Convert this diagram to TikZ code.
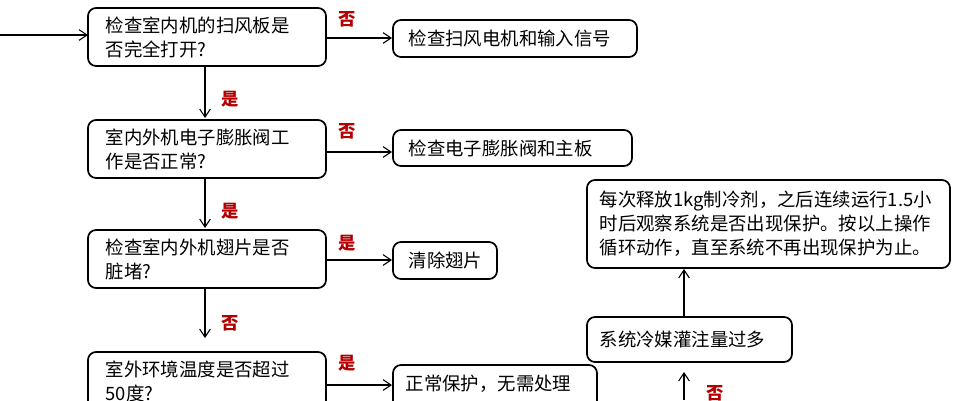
\documentclass[tikz,border=0pt]{standalone}
\usepackage{fontspec}
\setmainfont{Noto Sans CJK SC}
\usetikzlibrary{arrows.meta}
\begin{document}
\begin{tikzpicture}[x=0.75pt,y=-0.75pt,
  box/.style={draw,line width=1.3pt,rounded corners=6pt,inner sep=0pt},
  lbl/.style={text=red!70!black,font=\bfseries\fontsize{13}{15}\selectfont},
  arr/.style={-{Straight Barb[length=6pt,width=8pt]},line width=0.8pt},
  txt/.style={font=\fontsize{13.8}{18}\selectfont,align=left,anchor=west}]
\useasboundingbox (0,0) rectangle (969,400);
\clip (0,0) rectangle (969,400);
\draw[box] (88,8) rectangle (326,66);
\node[txt] (t1) at (101,37) {检查室内机的扫风板是\\否完全打开?};
\draw[box] (393,20) rectangle (637,57);
\node[txt] (t2) at (404,38.5) {检查扫风电机和输入信号};
\draw[box] (88,120) rectangle (326,178);
\node[txt] (t3) at (101,149) {室内外机电子膨胀阀工\\作是否正常?};
\draw[box] (393,130) rectangle (632,166);
\node[txt] (t4) at (404,148) {检查电子膨胀阀和主板};
\draw[box] (88,230) rectangle (326,288);
\node[txt] (t5) at (101,259) {检查室内外机翅片是否\\脏堵?};
\draw[box] (393,242) rectangle (497,279);
\node[txt] (t6) at (404,260.5) {清除翅片};
\draw[box] (88,352) rectangle (326,410);
\node[txt] (t7) at (101,381) {室外环境温度是否超过\\50度?};
\draw[box] (393,365) rectangle (597,410);
\node[txt] (t8) at (401,384) {正常保护，无需处理};
\draw[box] (587,180) rectangle (950,268);
\node[txt] (t9) at (595,224) {每次释放1kg制冷剂，之后连续运行1.5小\\时后观察系统是否出现保护。按以上操作\\循环动作，直至系统不再出现保护为止。};
\draw[box] (587,317) rectangle (792,362);
\node[txt] (t10) at (595,339.5) {系统冷媒灌注量过多};
\draw[arr] (0,35) -- (88,35);
\draw[arr] (326,38) -- (392,38);
\draw[arr] (326,152) -- (392,152);
\draw[arr] (326,260) -- (392,260);
\draw[arr] (326,385) -- (392,385);
\draw[arr] (205,66) -- (205,118);
\draw[arr] (205,178) -- (205,228);
\draw[arr] (205,288) -- (205,338);
\draw[arr] (684,400) -- (684,372);
\draw[arr] (684,317) -- (684,269);
\node[lbl] at (347,19) {否};
\node[lbl] at (347,131) {否};
\node[lbl] at (347,243) {是};
\node[lbl] at (347,363) {是};
\node[lbl] at (230,99) {是};
\node[lbl] at (230,211) {是};
\node[lbl] at (230,323) {否};
\node[lbl] at (715,393) {否};
\end{tikzpicture}
\end{document}
